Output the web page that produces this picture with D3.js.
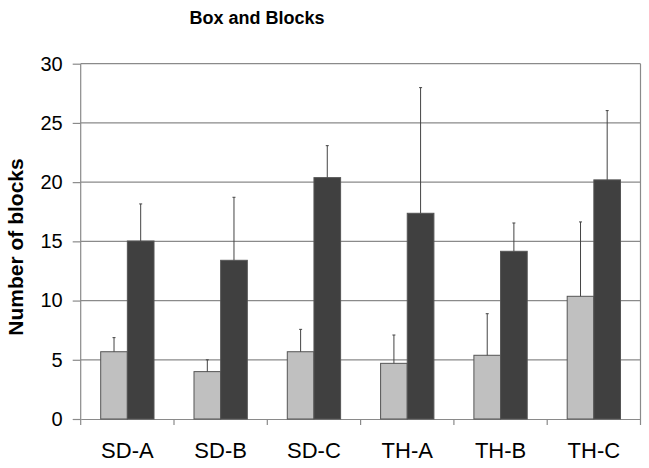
<!DOCTYPE html>
<html>
<head>
<meta charset="utf-8">
<script src="https://cdn.jsdelivr.net/npm/d3@7"></script>
<style>
  body { margin: 0; background: #fff; }
  svg { display: block; font-family: Arial, "Liberation Sans", sans-serif; }
</style>
</head>
<body>
<svg id="chart" width="649" height="468"></svg>
<script>
const categories = ['SD-A', 'SD-B', 'SD-C', 'TH-A', 'TH-B', 'TH-C'];
const lightValues = [5.68, 4.0, 5.68, 4.7, 5.38, 10.36];
const lightErrors = [1.19, 1.0, 1.89, 2.39, 3.51, 6.28];
const darkValues = [15.03, 13.4, 20.38, 17.37, 14.16, 20.19];
const darkErrors = [3.13, 5.32, 2.7, 10.61, 2.39, 5.85];
const yTicks = [0, 5, 10, 15, 20, 25, 30];

const series = [
  { key: 'light', values: lightValues, errors: lightErrors, fill: '#c0c0c0' },
  { key: 'dark', values: darkValues, errors: darkErrors, fill: '#404040' },
];

const plotLeft = 80.7, plotRight = 640.5, plotTop = 63.7, plotBottom = 419;
const gridColor = '#8a8a8a';

const svg = d3.select('#chart');

const x = d3.scaleBand().domain(categories).range([plotLeft, plotRight]).padding(0);
const xs = d3.scaleBand().domain(series.map(s => s.key))
  .range([0, x.bandwidth()]).paddingInner(0).paddingOuter(0.75);
const y = d3.scaleLinear().domain([0, 30]).range([plotBottom, plotTop]);

// title
svg.append('text')
  .attr('x', 257).attr('y', 24)
  .attr('text-anchor', 'middle')
  .style('font-size', '18px').style('font-weight', 'bold')
  .text('Box and Blocks');

// y axis title
svg.append('text')
  .attr('transform', 'translate(23,247) rotate(-90)')
  .attr('text-anchor', 'middle')
  .style('font-size', '21px').style('font-weight', 'bold')
  .text('Number of blocks');

// gridlines
svg.append('g')
  .selectAll('line')
  .data(yTicks.filter(t => t > 0))
  .join('line')
  .attr('x1', plotLeft).attr('x2', plotRight)
  .attr('y1', d => y(d)).attr('y2', d => y(d))
  .attr('stroke', gridColor).attr('stroke-width', 1.2);

// right border
svg.append('line')
  .attr('x1', plotRight).attr('x2', plotRight)
  .attr('y1', plotTop).attr('y2', plotBottom + 6)
  .attr('stroke', gridColor).attr('stroke-width', 1.2);

// y axis
const yAxis = svg.append('g')
  .attr('transform', `translate(${plotLeft},0)`)
  .call(d3.axisLeft(y).tickValues(yTicks).tickSize(8).tickPadding(10).tickSizeOuter(0));
yAxis.select('.domain').attr('stroke', gridColor).attr('stroke-width', 1.2)
  .attr('d', `M0,${plotTop}V${plotBottom + 6}`);
yAxis.selectAll('.tick line').attr('stroke', gridColor).attr('stroke-width', 1.2);
yAxis.selectAll('.tick text').style('font-size', '20px').attr('fill', '#000');

// x axis
const xAxis = svg.append('g')
  .attr('transform', `translate(0,${plotBottom})`)
  .call(d3.axisBottom(x).tickSize(0).tickPadding(23).tickSizeOuter(0));
xAxis.select('.domain').attr('stroke', gridColor).attr('stroke-width', 1.2);
xAxis.selectAll('.tick text').style('font-size', '22px').attr('fill', '#000');
svg.append('g')
  .selectAll('line')
  .data(categories.slice(1))
  .join('line')
  .attr('x1', d => x(d)).attr('x2', d => x(d))
  .attr('y1', plotBottom).attr('y2', plotBottom + 6)
  .attr('stroke', gridColor).attr('stroke-width', 1.2);

// bars
series.forEach(s => {
  const g = svg.append('g');
  g.selectAll('rect')
    .data(categories)
    .join('rect')
    .attr('x', d => x(d) + xs(s.key))
    .attr('y', (d, i) => y(s.values[i]))
    .attr('width', xs.bandwidth())
    .attr('height', (d, i) => y(0) - y(s.values[i]))
    .attr('fill', s.fill)
    .attr('stroke', '#555')
    .attr('stroke-width', 1);

  // upper error bars
  const cx = d => x(d) + xs(s.key) + xs.bandwidth() / 2;
  g.selectAll('line.err')
    .data(categories)
    .join('line')
    .attr('class', 'err')
    .attr('x1', cx).attr('x2', cx)
    .attr('y1', (d, i) => y(s.values[i]))
    .attr('y2', (d, i) => y(s.values[i] + s.errors[i]))
    .attr('stroke', '#444').attr('stroke-width', 1);
  g.selectAll('line.cap')
    .data(categories)
    .join('line')
    .attr('class', 'cap')
    .attr('x1', d => cx(d) - 1.5).attr('x2', d => cx(d) + 1.5)
    .attr('y1', (d, i) => y(s.values[i] + s.errors[i]))
    .attr('y2', (d, i) => y(s.values[i] + s.errors[i]))
    .attr('stroke', '#444').attr('stroke-width', 1);
});
</script>
</body>
</html>
